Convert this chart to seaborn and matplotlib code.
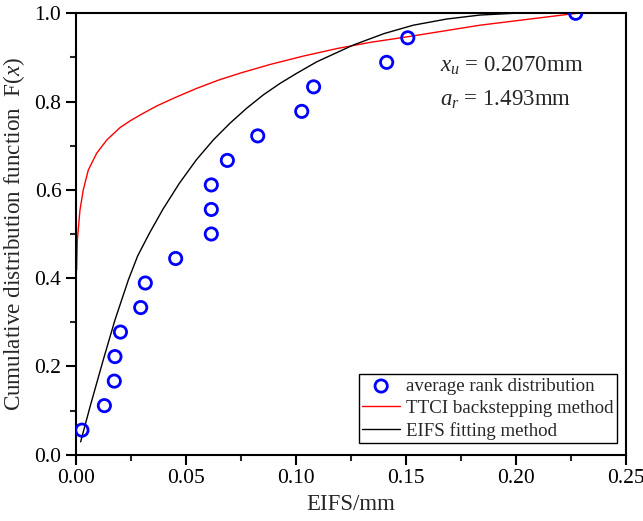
import matplotlib
matplotlib.use("Agg")
import matplotlib.pyplot as plt
import seaborn as sns
import pandas as pd
from matplotlib.ticker import MultipleLocator, FormatStrFormatter

# Average rank distribution of EIFS samples
rank_eifs = [0.0027, 0.0129, 0.0174, 0.0177, 0.0202, 0.0294, 0.0315, 0.0453, 0.0615,
             0.0615, 0.0615, 0.0688, 0.0826, 0.1026, 0.1080, 0.1412, 0.1508, 0.2271]
rank_F = [1/18, 2/18, 3/18, 4/18, 5/18, 6/18, 7/18, 8/18, 9/18,
          10/18, 11/18, 12/18, 13/18, 14/18, 15/18, 16/18, 17/18, 18/18]

# TTCI backstepping method curve
ttci_x = [0.0003, 0.0006, 0.0018, 0.0033, 0.0056, 0.0094, 0.0140, 0.0200, 0.0245,
          0.0300, 0.0367, 0.0450, 0.0549, 0.0650, 0.0750, 0.0882, 0.1033, 0.1185,
          0.1336, 0.1510, 0.1836, 0.2276]
ttci_F = [0.418, 0.486, 0.554, 0.600, 0.645, 0.683, 0.713, 0.741, 0.756,
          0.772, 0.790, 0.809, 0.830, 0.849, 0.865, 0.884, 0.903, 0.920,
          0.934, 0.947, 0.973, 1.000]

# EIFS fitting method curve
fit_x = [0.0021, 0.0064, 0.0124, 0.0177, 0.0238, 0.0280, 0.0334, 0.0395, 0.0470,
         0.0547, 0.0624, 0.0700, 0.0776, 0.0851, 0.0927, 0.1003, 0.1094, 0.1260,
         0.1400, 0.1533, 0.1685, 0.1836, 0.1990, 0.2276]
fit_F = [0.029, 0.109, 0.215, 0.305, 0.396, 0.450, 0.502, 0.556, 0.615,
         0.668, 0.713, 0.751, 0.785, 0.815, 0.841, 0.864, 0.890, 0.928,
         0.954, 0.973, 0.987, 0.996, 1.000, 1.000]

x_u_text = r"$x_u$ = 0.2070mm"
a_r_text = r"$a_r$ = 1.493mm"

sns.set_style("ticks")
plt.rcParams["font.family"] = ["Liberation Serif", "DejaVu Serif"]
plt.rcParams["mathtext.fontset"] = "custom"
plt.rcParams["mathtext.rm"] = "Liberation Serif"
plt.rcParams["mathtext.it"] = "Liberation Serif:italic"

fig = plt.figure(figsize=(6.43, 5.21), dpi=100)
ax = fig.add_axes([0.1182, 0.1273, 0.8554, 0.8472])

rank_df = pd.DataFrame({"x": rank_eifs, "F": rank_F})
ttci_df = pd.DataFrame({"x": ttci_x, "F": ttci_F})
fit_df = pd.DataFrame({"x": fit_x, "F": fit_F})

sns.lineplot(data=ttci_df, x="x", y="F", ax=ax, color="red", linewidth=1.0,
             sort=False, estimator=None, label="TTCI backstepping method", zorder=2)
sns.lineplot(data=fit_df, x="x", y="F", ax=ax, color="black", linewidth=1.0,
             sort=False, estimator=None, label="EIFS fitting method", zorder=2)
sns.scatterplot(data=rank_df, x="x", y="F", ax=ax, marker="o", s=78,
                facecolor="none", edgecolor=(0, 0, 1), linewidth=2.0,
                label="average rank distribution", zorder=3)

ax.set_xlim(0, 0.25)
ax.set_ylim(0, 1.0)
ax.xaxis.set_major_locator(MultipleLocator(0.05))
ax.xaxis.set_minor_locator(MultipleLocator(0.025))
ax.yaxis.set_major_locator(MultipleLocator(0.2))
ax.yaxis.set_minor_locator(MultipleLocator(0.1))
ax.xaxis.set_major_formatter(FormatStrFormatter("%.2f"))
ax.yaxis.set_major_formatter(FormatStrFormatter("%.1f"))

for sp in ax.spines.values():
    sp.set_visible(True)
    sp.set_linewidth(1.5)
    sp.set_color("black")
ax.tick_params(which="major", direction="out", length=7, width=1.5,
               labelsize=15.5, colors="black", top=False, right=False)
ax.tick_params(which="minor", direction="out", length=4, width=1.5,
               top=False, right=False)

ax.set_xlabel("EIFS/mm", fontsize=16.5, labelpad=4)
ax.set_ylabel(r"Cumulative distribution function  F($x$)", fontsize=16.7, labelpad=5)

ax.text(0.662, 0.881, x_u_text, transform=ax.transAxes, fontsize=16.5,
        ha="left", va="center")
ax.text(0.662, 0.804, a_r_text, transform=ax.transAxes, fontsize=16.5,
        ha="left", va="center")

handles, labels = ax.get_legend_handles_labels()
order = [labels.index("average rank distribution"),
         labels.index("TTCI backstepping method"),
         labels.index("EIFS fitting method")]
leg = ax.legend([handles[i] for i in order], [labels[i] for i in order],
                loc="lower right", bbox_to_anchor=(0.9836, 0.0258),
                fontsize=13.6, frameon=True, fancybox=False, framealpha=1,
                edgecolor="black", handlelength=2.0, handletextpad=0.3,
                labelspacing=0.25, borderpad=0.2, borderaxespad=0)
leg.get_frame().set_linewidth(1.0)

fig.savefig("out.png", dpi=100)
